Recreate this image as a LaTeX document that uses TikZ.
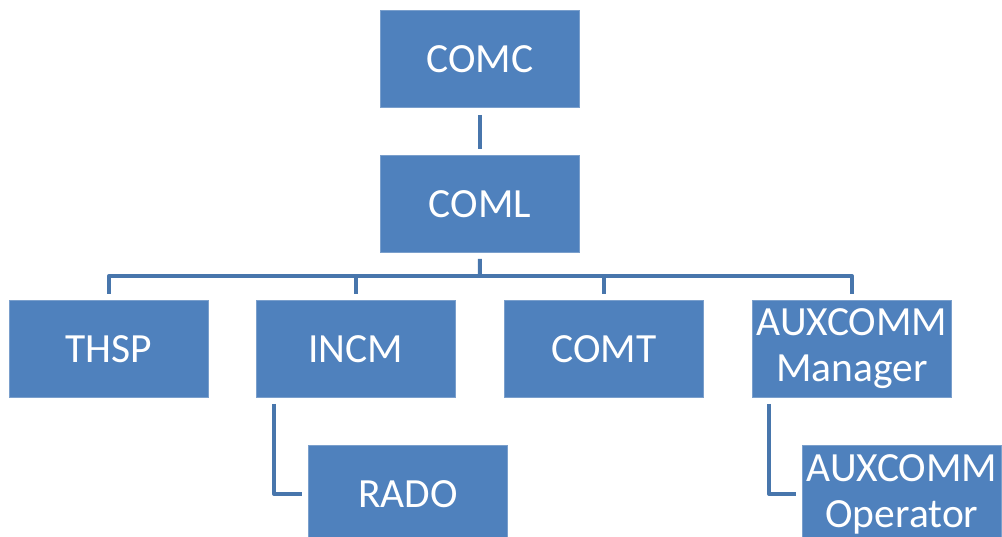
\documentclass[tikz,border=0pt]{standalone}
\usepackage{fontspec}
\setmainfont{Carlito}
\definecolor{boxfill}{HTML}{4F81BD}
\definecolor{boxline}{HTML}{7A9FCC}
\definecolor{connc}{HTML}{4876AC}
\begin{document}
\begin{tikzpicture}[
  orgbox/.style={rectangle, fill=boxfill, draw=boxline, line width=0.8pt,
    minimum width=199pt, minimum height=97pt, inner sep=0pt, anchor=north west,
    text=white, align=center, font=\fontsize{41.5}{46}\selectfont},
  conn/.style={draw=connc, line width=4pt, line join=round}
]
\useasboundingbox (0,0) rectangle (1002pt,-537pt);
\clip (0,0) rectangle (1002pt,-537pt);
\node[orgbox] (comc) at (380pt,-10pt) {COMC};
\node[orgbox] (coml) at (380pt,-155pt) {COML};
\node[orgbox] (thsp) at (9pt,-300pt) {THSP};
\node[orgbox] (incm) at (256pt,-300pt) {INCM};
\node[orgbox] (comt) at (504pt,-300pt) {COMT};
\node[orgbox] (auxman) at (752pt,-300pt) {AUXCOMM\\Manager};
\node[orgbox] (rado) at (308pt,-445pt) {RADO};
\node[orgbox] (auxop) at (802pt,-445pt) {AUXCOMM\\Operator};
\coordinate (bus) at (480pt,-276pt);
\draw[conn] ([yshift=-7pt]comc.south) -- ([yshift=6pt]coml.north);
\draw[conn] ([yshift=6pt]thsp.north) |- (bus) -| ([yshift=6pt]auxman.north);
\draw[conn] ([yshift=-6pt]coml.south) -- (bus);
\draw[conn] ([yshift=6pt]incm.north) -- (incm.north |- bus);
\draw[conn] ([yshift=6pt]comt.north) -- (comt.north |- bus);
\draw[conn] ([xshift=18pt,yshift=-6pt]incm.south west) |- ([xshift=-6pt]rado.west);
\draw[conn] ([xshift=17pt,yshift=-6pt]auxman.south west) |- ([xshift=-6pt]auxop.west);
\end{tikzpicture}
\end{document}
